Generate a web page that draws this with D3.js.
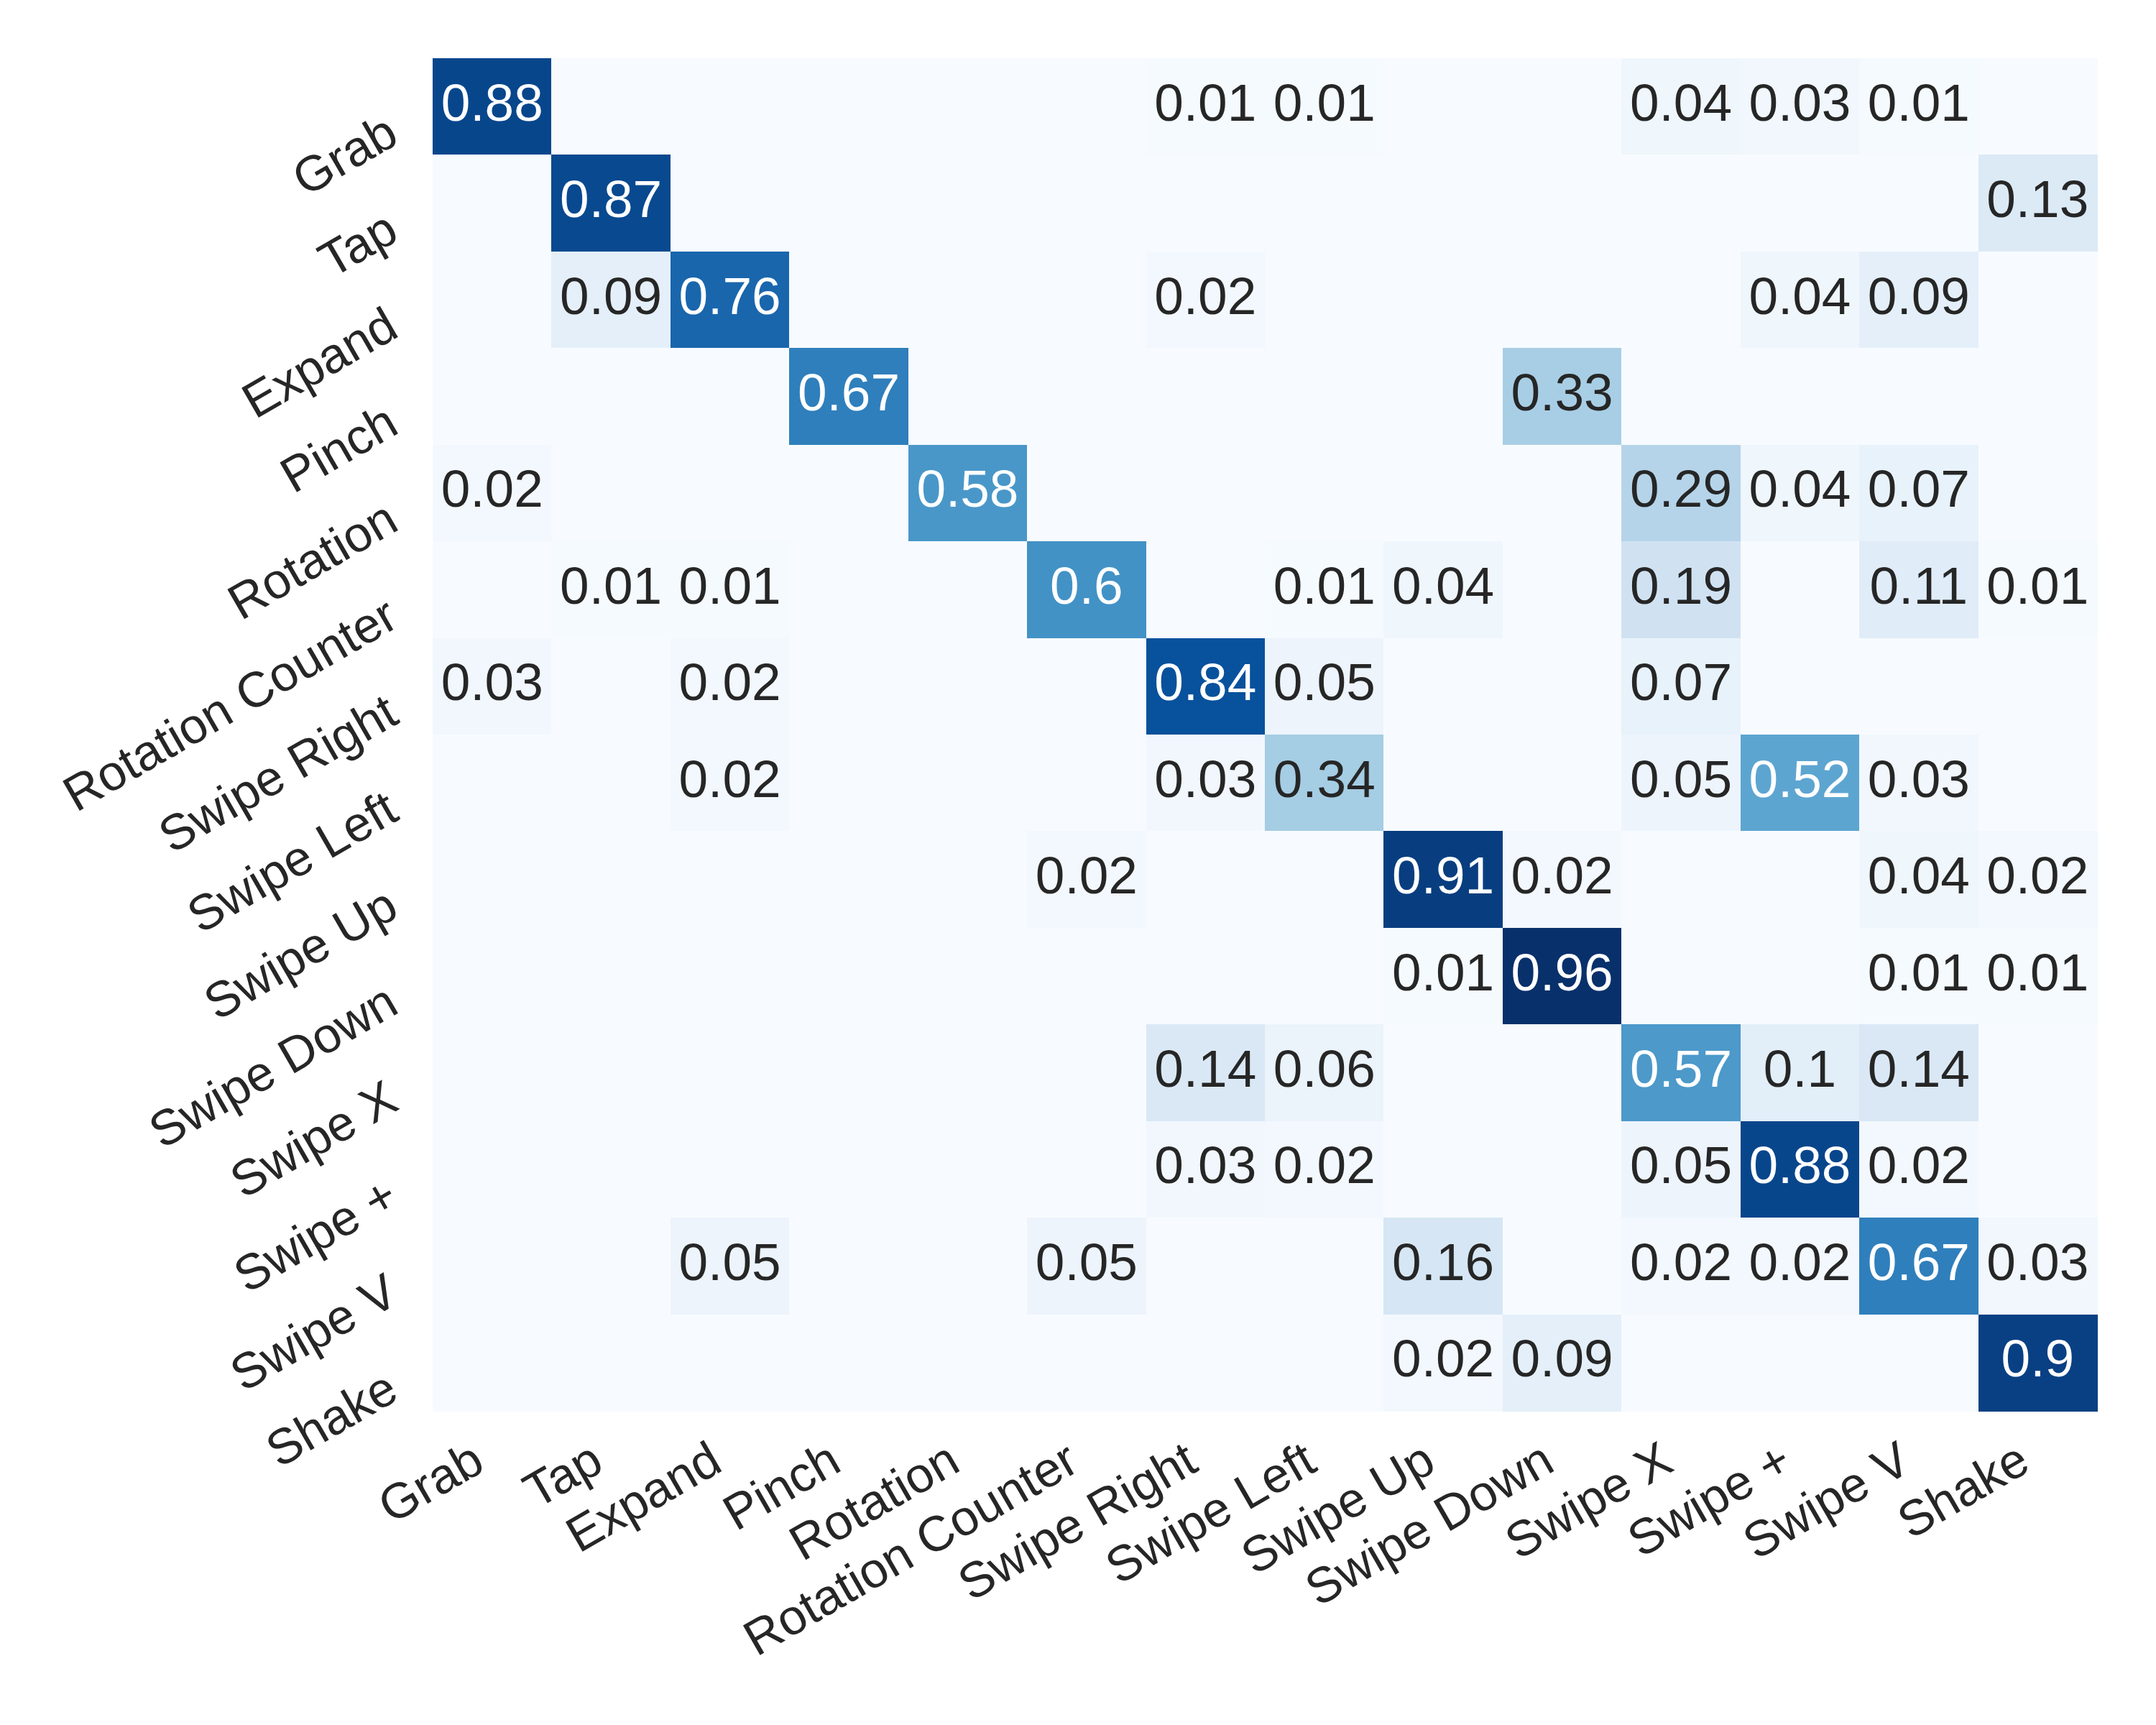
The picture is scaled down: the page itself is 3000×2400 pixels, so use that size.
<!DOCTYPE html>
<html>
<meta charset="utf-8">
<head>
    <script src="https://d3js.org/d3.v7.min.js"></script>
    <style>
        body { margin: 0; background: #fff; }
        text { font-family: "Liberation Sans", Arial, sans-serif; }
    </style>
</head>
<body>
    <div id="my_dataviz"></div>
</body>

<script>
    // gesture classes (rows = true, columns = predicted)
    const gestures = ["Grab", "Tap", "Expand", "Pinch", "Rotation", "Rotation Counter",
        "Swipe Right", "Swipe Left", "Swipe Up", "Swipe Down", "Swipe X", "Swipe +", "Swipe V", "Shake"];

    const rowGrab       = [0.88, 0, 0, 0, 0, 0, 0.01, 0.01, 0, 0, 0.04, 0.03, 0.01, 0];
    const rowTap        = [0, 0.87, 0, 0, 0, 0, 0, 0, 0, 0, 0, 0, 0, 0.13];
    const rowExpand     = [0, 0.09, 0.76, 0, 0, 0, 0.02, 0, 0, 0, 0, 0.04, 0.09, 0];
    const rowPinch      = [0, 0, 0, 0.67, 0, 0, 0, 0, 0, 0.33, 0, 0, 0, 0];
    const rowRotation   = [0.02, 0, 0, 0, 0.58, 0, 0, 0, 0, 0, 0.29, 0.04, 0.07, 0];
    const rowRotCounter = [0, 0.01, 0.01, 0, 0, 0.6, 0, 0.01, 0.04, 0, 0.19, 0, 0.11, 0.01];
    const rowSwipeRight = [0.03, 0, 0.02, 0, 0, 0, 0.84, 0.05, 0, 0, 0.07, 0, 0, 0];
    const rowSwipeLeft  = [0, 0, 0.02, 0, 0, 0, 0.03, 0.34, 0, 0, 0.05, 0.52, 0.03, 0];
    const rowSwipeUp    = [0, 0, 0, 0, 0, 0.02, 0, 0, 0.91, 0.02, 0, 0, 0.04, 0.02];
    const rowSwipeDown  = [0, 0, 0, 0, 0, 0, 0, 0, 0.01, 0.96, 0, 0, 0.01, 0.01];
    const rowSwipeX     = [0, 0, 0, 0, 0, 0, 0.14, 0.06, 0, 0, 0.57, 0.1, 0.14, 0];
    const rowSwipePlus  = [0, 0, 0, 0, 0, 0, 0.03, 0.02, 0, 0, 0.05, 0.88, 0.02, 0];
    const rowSwipeV     = [0, 0, 0.05, 0, 0, 0.05, 0, 0, 0.16, 0, 0.02, 0.02, 0.67, 0.03];
    const rowShake      = [0, 0, 0, 0, 0, 0, 0, 0, 0.02, 0.09, 0, 0, 0, 0.9];

    const matrix = [rowGrab, rowTap, rowExpand, rowPinch, rowRotation, rowRotCounter,
        rowSwipeRight, rowSwipeLeft, rowSwipeUp, rowSwipeDown, rowSwipeX, rowSwipePlus, rowSwipeV, rowShake];

    const W = 3000, H = 2400;
    const plot = { left: 602, right: 2918, top: 81, bottom: 1963 };
    const annotSize = 73, tickSize = 69, angle = 30;
    const dark = "#262626";

    const svg = d3.select("#my_dataviz")
        .append("svg")
            .attr("width", W)
            .attr("height", H);
    svg.append("rect").attr("width", W).attr("height", H).attr("fill", "#fff");

    // flatten
    const cells = [];
    matrix.forEach((row, i) => row.forEach((v, j) => cells.push({ r: gestures[i], c: gestures[j], v })));

    const x = d3.scaleBand().domain(gestures).range([plot.left, plot.right]);
    const y = d3.scaleBand().domain(gestures).range([plot.top, plot.bottom]);

    // matplotlib "Blues" (linear over the 9 brewer colours), vmin = 0, vmax = data max
    const blues = ["#f7fbff", "#deebf7", "#c6dbef", "#9ecae1", "#6baed6", "#4292c6", "#2171b5", "#08519c", "#08306b"];
    const vmax = d3.max(cells, d => d.v);
    const color = d3.scaleLinear()
        .domain(blues.map((_, k) => vmax * k / (blues.length - 1)))
        .range(blues)
        .interpolate(d3.interpolateRgb);

    function luminance(c) {
        const rgb = d3.rgb(c);
        const lin = [rgb.r, rgb.g, rgb.b].map(u => {
            u /= 255;
            return u <= 0.03928 ? u / 12.92 : Math.pow((u + 0.055) / 1.055, 2.4);
        });
        return 0.2126 * lin[0] + 0.7152 * lin[1] + 0.0722 * lin[2];
    }

    // cells
    svg.append("g")
        .selectAll("rect")
        .data(cells)
        .join("rect")
            .attr("x", d => x(d.c))
            .attr("y", d => y(d.r))
            .attr("width", x.bandwidth() + 0.5)
            .attr("height", y.bandwidth() + 0.5)
            .attr("fill", d => color(d.v))
            .attr("shape-rendering", "crispEdges");

    // annotations (zeros left blank)
    svg.append("g")
        .selectAll("text")
        .data(cells.filter(d => d.v > 0))
        .join("text")
            .attr("x", d => x(d.c) + x.bandwidth() / 2)
            .attr("y", d => y(d.r) + y.bandwidth() / 2 - 6)
            .attr("text-anchor", "middle")
            .attr("dominant-baseline", "central")
            .attr("font-size", annotSize)
            .attr("fill", d => luminance(color(d.v)) > 0.408 ? dark : "#fff")
            .text(d => String(d.v));

    // y tick labels, rotated 30deg
    const yAxis = d3.axisLeft(y).tickSize(0).tickPadding(0);
    const gy = svg.append("g")
        .attr("transform", `translate(${plot.left},0)`)
        .call(yAxis);
    gy.select(".domain").remove();
    gy.selectAll(".tick text")
        .attr("font-size", tickSize)
        .attr("fill", dark)
        .attr("dy", null)
        .attr("x", null)
        .attr("text-anchor", "end")
        .attr("transform", `translate(${-37 - 0.105 * tickSize},${6 + 0.632 * tickSize}) rotate(${-angle})`);

    // x tick labels, rotated 30deg
    const xAxis = d3.axisBottom(x).tickSize(0).tickPadding(0);
    const gx = svg.append("g")
        .attr("transform", `translate(0,${plot.bottom})`)
        .call(xAxis);
    gx.select(".domain").remove();
    gx.selectAll(".tick text")
        .attr("font-size", tickSize)
        .attr("fill", dark)
        .attr("dy", null)
        .attr("y", null)
        .attr("text-anchor", "end")
        .attr("transform", `translate(${-0.105 * tickSize},${38 + 0.632 * tickSize}) rotate(${-angle})`);
</script>
</html>
